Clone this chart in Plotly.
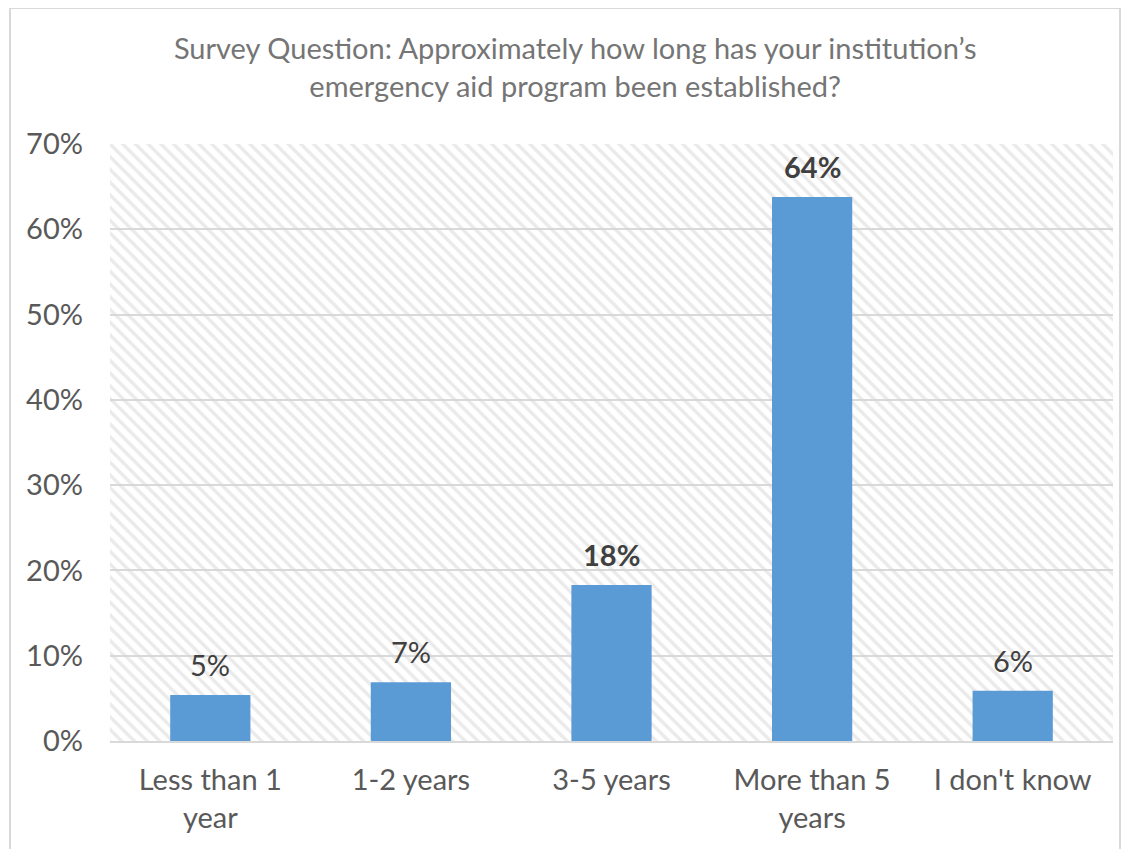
import plotly.graph_objects as go

categories = ["Less than 1<br>year", "1-2 years", "3-5 years", "More than 5<br>years", "I don't know"]
values = [0.054, 0.069, 0.183, 0.638, 0.059]
labels = ["5%", "7%", "<b>18%</b>", "<b>64%</b>", "6%"]
y_ticks = [0, 0.1, 0.2, 0.3, 0.4, 0.5, 0.6, 0.7]
y_tick_text = ["0%", "10%", "20%", "30%", "40%", "50%", "60%", "70%"]
y_max = 0.7

FONT = "Lato, Noto Sans, sans-serif"

fig = go.Figure()

# hatched plot-area background
fig.add_trace(go.Bar(
    x=categories, y=[y_max] * len(categories), width=1,
    marker=dict(color="rgba(0,0,0,0)", line=dict(width=0),
                pattern=dict(shape="\\", fgcolor="#D6D6D6", bgcolor="rgba(0,0,0,0)",
                             size=9, solidity=0.38, fillmode="overlay")),
    hoverinfo="skip", showlegend=False,
))

fig.add_trace(go.Bar(
    x=categories, y=values, width=0.4,
    marker=dict(color="#5B9BD5", line=dict(width=0)),
    hoverinfo="skip", showlegend=False,
))

for c, v, t in zip(categories, values, labels):
    fig.add_annotation(x=c, y=v, text=t, showarrow=False, yanchor="bottom",
                       yshift=11, font=dict(family=FONT, size=29, color="#404040"))

fig.update_layout(
    width=1121, height=841,
    barmode="overlay",
    paper_bgcolor="white", plot_bgcolor="white",
    margin=dict(l=102, r=16, t=136, b=108),
    font=dict(family=FONT, color="#595959"),
    title=dict(
        text="Survey Question: Approximately how long has your institution’s<br>emergency aid program been established?",
        x=0.506, xanchor="center", y=0.939, yanchor="middle",
        font=dict(family=FONT, size=29, color="#757575"),
    ),
    xaxis=dict(
        showgrid=False, showline=True, linecolor="#D9D9D9", linewidth=2,
        tickfont=dict(size=29, color="#595959"), ticks="",
        range=[-0.5, 4.5], ticklabelstandoff=12,
    ),
    yaxis=dict(
        range=[0, y_max], tickvals=y_ticks, ticktext=y_tick_text,
        showgrid=True, gridcolor="#D9D9D9", gridwidth=2, zeroline=False,
        tickfont=dict(size=29, color="#595959"), ticklabelstandoff=26,
    ),
    shapes=[dict(type="rect", xref="paper", yref="paper",
                 x0=-100/1003, x1=1.0 + 7/1003, y0=-0.5, y1=1.0 + 136/597,
                 line=dict(color="#D9D9D9", width=2), fillcolor="rgba(0,0,0,0)", layer="below")],
)

fig.write_html("out.html")
